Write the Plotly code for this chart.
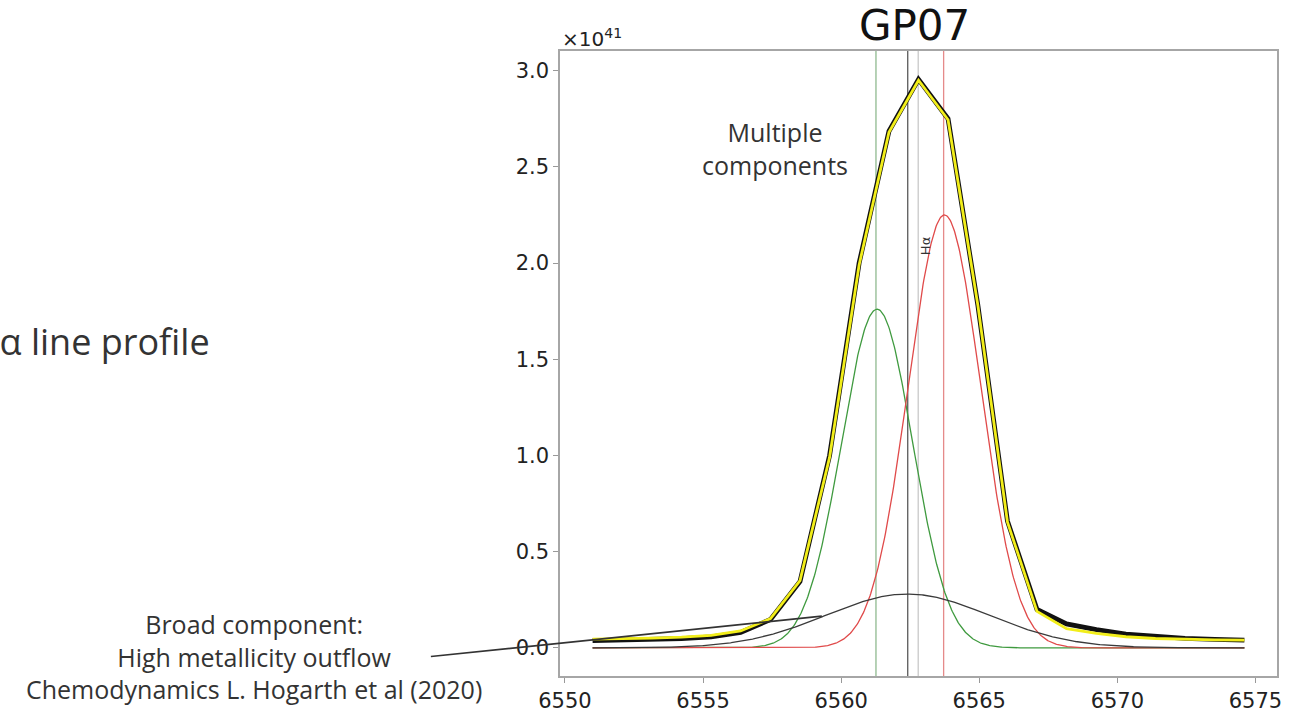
import numpy as np
import plotly.graph_objects as go

# ---------------- data (flux in units of 1e41) ----------------
wavelength = [6551.0, 6552.07, 6553.15, 6554.22, 6555.29, 6556.36, 6557.44, 6558.51,
              6559.58, 6560.65, 6561.73, 6562.8, 6563.87, 6564.95, 6566.02, 6567.09,
              6568.16, 6569.24, 6570.31, 6571.38, 6572.45, 6573.53, 6574.6]
observed = [0.038, 0.040, 0.043, 0.048, 0.057, 0.080, 0.148, 0.345,
            1.00, 2.00, 2.685, 2.955, 2.75, 1.78, 0.66, 0.20,
            0.125, 0.095, 0.072, 0.058, 0.050, 0.044, 0.040]
model_total = [0.046, 0.048, 0.051, 0.056, 0.065, 0.088, 0.152, 0.35,
               0.99, 1.99, 2.68, 2.95, 2.745, 1.78, 0.655, 0.19,
               0.10, 0.075, 0.058, 0.049, 0.044, 0.042, 0.040]

# Gaussian components: narrow blue-side, narrow red-side, broad
comp_names = ["narrow 1", "narrow 2", "broad"]
comp_centers = [6561.3, 6563.74, 6562.4]
comp_amplitudes = [1.76, 2.25, 0.28]
comp_sigmas = [1.29, 1.31, 2.95]
comp_colors = ["#3f9a3f", "#e04a4a", "#3a3a3a"]

# vertical reference lines
vline_pos = [6561.26, 6562.41, 6562.79, 6563.71]
vline_colors = ["#8fb98f", "#5a5a5a", "#c9c9c9", "#e58a8a"]

x_ticks = [6550, 6555, 6560, 6565, 6570, 6575]
y_ticks = [0.0, 0.5, 1.0, 1.5, 2.0, 2.5, 3.0]

X_RANGE = [6549.82, 6575.78]
Y_RANGE = [-0.146, 3.102]

# ---------------- figure ----------------
W, H = 1294, 725
ML, MR, MT, MB = 560, 12, 51, 31
PW, PH = W - ML - MR, H - MT - MB


def px(xp):
    return (xp - ML) / PW


def py(yp):
    return (H - MB - yp) / PH


fig = go.Figure()

grid = np.linspace(wavelength[0], wavelength[-1], 800)
for name, c, a, s, col in zip(comp_names, comp_centers, comp_amplitudes, comp_sigmas, comp_colors):
    fig.add_trace(go.Scatter(x=grid, y=a * np.exp(-(grid - c) ** 2 / (2 * s ** 2)),
                             mode="lines", line=dict(color=col, width=1.3),
                             name=name, showlegend=False, hoverinfo="skip"))

fig.add_trace(go.Scatter(x=wavelength, y=observed, mode="lines",
                         line=dict(color="#111111", width=4.8), showlegend=False))
fig.add_trace(go.Scatter(x=wavelength, y=model_total, mode="lines",
                         line=dict(color="#f2ee1a", width=2.8), showlegend=False))

for xv, col in zip(vline_pos, vline_colors):
    fig.add_shape(type="line", xref="x", yref="paper", x0=xv, x1=xv, y0=0, y1=1,
                  line=dict(color=col, width=1.3), layer="below")

# pointer from the "broad component" label to the broad Gaussian
ptr_x, ptr_y = 6559.3, 0.165
ptr_px = ML + (ptr_x - X_RANGE[0]) / (X_RANGE[1] - X_RANGE[0]) * PW
ptr_py = MT + (Y_RANGE[1] - ptr_y) / (Y_RANGE[1] - Y_RANGE[0]) * PH
fig.add_shape(type="line", xref="paper", yref="paper",
              x0=px(430), y0=py(674), x1=px(ptr_px), y1=py(ptr_py),
              line=dict(color="#333333", width=1.6))

axis_common = dict(showline=True, mirror=True, linecolor="#a6a6a6", linewidth=1.5,
                   ticks="outside", ticklen=5, tickcolor="#999999", tickwidth=1,
                   showgrid=False, zeroline=False,
                   tickfont=dict(family="DejaVu Sans", size=21, color="#222222"))

fig.update_layout(
    width=W, height=H,
    margin=dict(l=ML, r=MR, t=MT, b=MB),
    paper_bgcolor="white", plot_bgcolor="white",
    showlegend=False,
    xaxis=dict(range=X_RANGE, tickvals=x_ticks,
               ticktext=[str(v) for v in x_ticks], **axis_common),
    yaxis=dict(range=Y_RANGE, tickvals=y_ticks,
               ticktext=[f"{v:.1f}" for v in y_ticks], **axis_common),
)

text_col = "#333333"
slide_font = "Open Sans"
annos = [
    dict(text="GP07", x=px(917), y=py(25), xref="paper", yref="paper",
         xanchor="center", yanchor="middle", showarrow=False,
         font=dict(family="DejaVu Sans", size=42, color="#111111")),
    dict(text="×10<sup>41</sup>", x=px(560), y=py(38), xref="paper", yref="paper",
         xanchor="left", yanchor="middle", showarrow=False,
         font=dict(family="DejaVu Sans", size=20, color="#222222")),
    dict(text="Hα", x=6563.05, y=2.09, xref="x", yref="y", textangle=-90,
         xanchor="center", yanchor="middle", showarrow=False,
         font=dict(family="DejaVu Sans", size=13, color="#333333")),
    dict(text="Multiple<br>components", x=px(777), y=py(151), xref="paper", yref="paper",
         xanchor="center", yanchor="middle", showarrow=False,
         font=dict(family=slide_font, size=25, color=text_col)),
    dict(text="Hα line profile", x=px(210), y=py(350), xref="paper", yref="paper",
         xanchor="right", yanchor="middle", showarrow=False,
         font=dict(family=slide_font, size=36, color=text_col)),
    dict(text="Broad component:<br>High metallicity outflow<br>Chemodynamics L. Hogarth et al (2020)",
         x=px(252), y=py(674), xref="paper", yref="paper",
         xanchor="center", yanchor="middle", showarrow=False, align="center",
         font=dict(family=slide_font, size=25, color=text_col)),
]
fig.update_layout(annotations=annos)

fig.write_html("out.html")
